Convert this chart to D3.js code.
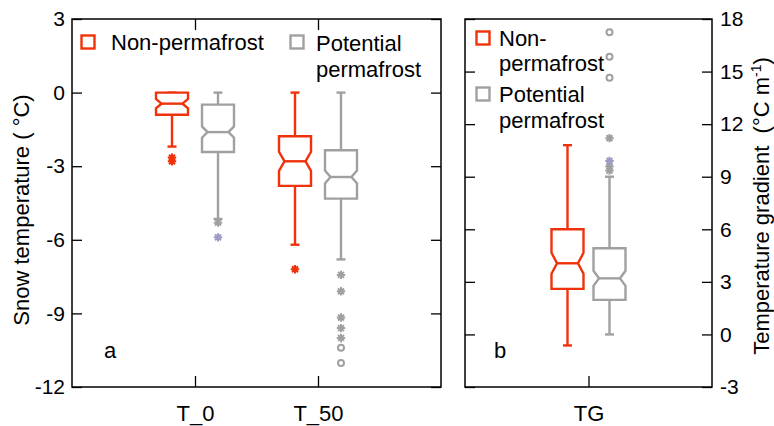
<!DOCTYPE html>
<html><head><meta charset="utf-8">
<script src="https://cdn.jsdelivr.net/npm/d3@7"></script>
<style>
html,body{margin:0;padding:0;background:#fff;}
svg{display:block;font-family:"Liberation Sans",Arial,Helvetica,sans-serif;}
</style></head>
<body><svg id="c" width="774" height="426"></svg>
<script>
// ---- data ----
const categoriesA = ["T_0", "T_50"];
const categoriesB = ["TG"];
const groups = ["Non-permafrost", "Potential permafrost"];
const ticksA = [3, 0, -3, -6, -9, -12];
const ticksB = [18, 15, 12, 9, 6, 3, 0, -3];
// box stats: [whiskerLow, q1, median, q3, whiskerHigh, notchHalf]
const nonPermA = [[-2.2, -0.9, -0.45, 0, 0, 0.19], [-6.2, -3.8, -2.8, -1.78, 0, 0.39]];
const potPermA = [[-5.15, -2.42, -1.61, -0.49, 0, 0.23], [-6.8, -4.32, -3.44, -2.35, 0, 0.26]];
const nonPermB = [[-0.63, 2.6, 4.06, 6.0, 10.8, 0.6]];
const potPermB = [[0, 1.97, 3.2, 4.92, 9.0, 0.43]];
// outliers
const nonPermStarA = [[-2.65, -2.8], [-7.2]];
const potPermStarA = [[-5.3], [-7.43, -8.1, -9.17, -9.6, -10.0]];
const potPermStarAltA = [[-5.9], []];
const potPermCircA = [[], [-10.4, -11.02]];
const nonPermStarB = [[]];
const potPermStarB = [[11.2, 9.6, 9.35]];
const potPermStarAltB = [[9.9]];
const potPermCircB = [[17.24, 15.85, 14.65]];

// ---- style ----
const RED = "#f0320a", GRAY = "#a0a0a0", ALT = "#9c9cc6";
const FS = 22, TFS = 21;
const svg = d3.select("#c");

function panel(opt) {
  const {x0, x1, y0, y1, domain, cats, ticks, offs, nonStats, potStats,
         nonStar, potStar, potAlt, potCirc} = opt;
  const g = svg.append("g");
  const x = d3.scalePoint().domain(cats).range([x0, x1]).padding(1);
  const y = d3.scaleLinear().domain(domain).range([y1, y0]);
  const off = d3.scalePoint().domain(groups).range([-offs, offs]);
  const fmt = d => String(d);

  g.append("g").attr("transform", `translate(${x0},0)`)
    .call(d3.axisLeft(y).tickValues(ticks).tickSize(-10).tickSizeOuter(0).tickPadding(7)
      .tickFormat(opt.leftLabels ? fmt : ""));
  g.append("g").attr("transform", `translate(${x1},0)`)
    .call(d3.axisRight(y).tickValues(ticks).tickSize(-10).tickSizeOuter(0).tickPadding(8)
      .tickFormat(opt.rightLabels ? fmt : ""));
  const bottom = g.append("g").attr("transform", `translate(0,${y1})`)
    .call(d3.axisBottom(x).tickSize(-11).tickSizeOuter(0).tickPadding(18));
  if (opt.topTicks) {
    g.append("g").attr("transform", `translate(0,${y0})`)
      .call(d3.axisTop(x).tickSize(-11).tickSizeOuter(0).tickFormat(""));
  }
  g.selectAll(".domain").remove();
  g.selectAll(".tick line").attr("stroke", "#000").attr("stroke-width", 1.3);
  g.selectAll(".tick text").attr("font-size", TFS).attr("fill", "#000").attr("font-family", "inherit");
  bottom.selectAll(".tick text").attr("font-size", FS).attr("dy", "0.71em");

  g.append("rect").attr("x", x0).attr("y", y0).attr("width", x1 - x0).attr("height", y1 - y0)
    .attr("fill", "none").attr("stroke", "#000").attr("stroke-width", 1.5);

  const w = 16, inset = 5.5, cap = 4.5;
  function drawBox(stats, cat, grp, color) {
    const cx = x(cat) + off(grp);
    const [lo, q1, med, q3, hi, n] = stats;
    const bg = g.append("g").attr("stroke", color).attr("stroke-width", 2.4).attr("fill", "none");
    bg.append("line").attr("x1", cx).attr("x2", cx).attr("y1", y(q3)).attr("y2", y(hi));
    bg.append("line").attr("x1", cx).attr("x2", cx).attr("y1", y(q1)).attr("y2", y(lo));
    bg.append("line").attr("x1", cx - cap).attr("x2", cx + cap).attr("y1", y(hi)).attr("y2", y(hi));
    bg.append("line").attr("x1", cx - cap).attr("x2", cx + cap).attr("y1", y(lo)).attr("y2", y(lo));
    const p = d3.path();
    p.moveTo(cx - w, y(q3)); p.lineTo(cx + w, y(q3));
    p.lineTo(cx + w, y(med + n)); p.lineTo(cx + w - inset, y(med)); p.lineTo(cx + w, y(med - n));
    p.lineTo(cx + w, y(q1)); p.lineTo(cx - w, y(q1));
    p.lineTo(cx - w, y(med - n)); p.lineTo(cx - w + inset, y(med)); p.lineTo(cx - w, y(med + n));
    p.closePath();
    bg.append("path").attr("d", p.toString()).attr("fill", "#fff").attr("stroke-linejoin", "miter");
    bg.append("line").attr("x1", cx - w + inset).attr("x2", cx + w - inset).attr("y1", y(med)).attr("y2", y(med));
  }
  function drawStars(vals, cat, grp, color) {
    const cx = x(cat) + off(grp);
    vals.forEach(v => {
      const cy = y(v), r = 4.2;
      const p = d3.path();
      [0, 45, 90, 135].forEach(a => {
        const t = a * Math.PI / 180;
        p.moveTo(cx - r * Math.cos(t), cy - r * Math.sin(t));
        p.lineTo(cx + r * Math.cos(t), cy + r * Math.sin(t));
      });
      g.append("path").attr("d", p.toString()).attr("stroke", color).attr("stroke-width", 2).attr("fill", "none");
    });
  }
  function drawCircles(vals, cat, grp, color) {
    const cx = x(cat) + off(grp);
    vals.forEach(v => {
      g.append("circle").attr("cx", cx).attr("cy", y(v)).attr("r", 3)
        .attr("fill", "none").attr("stroke", color).attr("stroke-width", 2);
    });
  }
  cats.forEach((c, i) => {
    drawBox(nonStats[i], c, groups[0], RED);
    drawBox(potStats[i], c, groups[1], GRAY);
    drawStars(nonStar[i], c, groups[0], RED);
    drawStars(potStar[i], c, groups[1], GRAY);
    drawStars(potAlt[i], c, groups[1], ALT);
    drawCircles(potCirc[i], c, groups[1], GRAY);
  });
  return g;
}

panel({x0: 72, x1: 441, y0: 19, y1: 387, domain: [-12, 3], cats: categoriesA, ticks: ticksA,
  offs: 23, nonStats: nonPermA, potStats: potPermA, nonStar: nonPermStarA, potStar: potPermStarA,
  potAlt: potPermStarAltA, potCirc: potPermCircA, leftLabels: true, rightLabels: false, topTicks: true});
panel({x0: 465, x1: 712, y0: 19, y1: 387, domain: [-3, 18], cats: categoriesB, ticks: ticksB,
  offs: 21, nonStats: nonPermB, potStats: potPermB, nonStar: nonPermStarB, potStar: potPermStarB,
  potAlt: potPermStarAltB, potCirc: potPermCircB, leftLabels: false, rightLabels: true, topTicks: false});

function legendSwatch(x, y, color) {
  svg.append("rect").attr("x", x).attr("y", y).attr("width", 13).attr("height", 13)
    .attr("fill", "#fff").attr("stroke", color).attr("stroke-width", 2.4);
}
function txt(x, y, s) {
  return svg.append("text").attr("x", x).attr("y", y).attr("font-size", FS)
    .attr("fill", "#000").text(s);
}
legendSwatch(81.5, 35.5, RED);
txt(111, 50, groups[0]);
legendSwatch(290.5, 35.5, GRAY);
txt(316, 51, "Potential");
txt(316, 77, "permafrost");

legendSwatch(476.5, 31.5, RED);
txt(499, 46, "Non-");
txt(499, 71, "permafrost");
legendSwatch(476.5, 87.5, GRAY);
txt(499, 102, "Potential");
txt(499, 128, "permafrost");

txt(104, 358, "a");
txt(494, 358, "b");

svg.append("text").attr("transform", "translate(29,210) rotate(-90)").attr("text-anchor", "middle")
  .attr("font-size", FS).text("Snow temperature ( °C)");
const rt = svg.append("text").attr("transform", "translate(769,206) rotate(-90)").attr("text-anchor", "middle")
  .attr("font-size", FS).attr("xml:space", "preserve").style("white-space", "pre");
rt.append("tspan").text("Temperature gradient  (°C m");
rt.append("tspan").attr("font-size", 14).attr("dy", -8).text("-1");
rt.append("tspan").attr("dy", 8).text(")");
</script></body></html>
